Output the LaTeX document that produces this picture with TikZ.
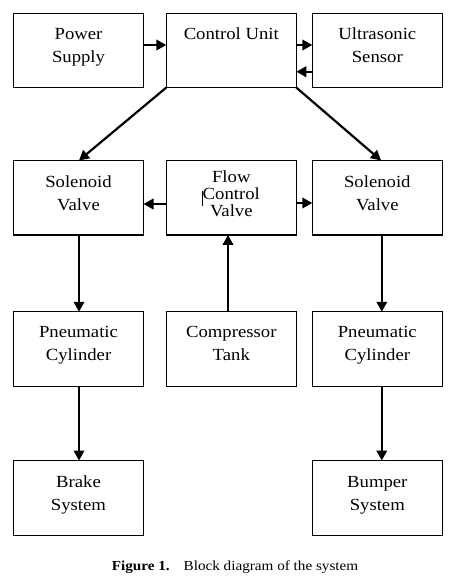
\documentclass[tikz,border=0pt]{standalone}
\usepackage{fontspec}
\setmainfont{Liberation Serif}[FakeStretch=1.1]
\usetikzlibrary{arrows.meta}
\newcommand\blk[1]{\begin{tabular}[t]{@{}c@{}}#1\end{tabular}}
\begin{document}
\begin{tikzpicture}[x=1pt,y=-1pt,
  box/.style={draw, line width=1.1pt, minimum width=130pt, minimum height=74.5pt, inner sep=0pt, outer sep=0pt},
  lbl/.style={anchor=base, inner sep=0pt, font=\fontsize{17}{23}\selectfont},
  lbltight/.style={anchor=base, inner sep=0pt, font=\fontsize{17}{16.5}\selectfont},
  arr/.style={-{Triangle[length=10pt,width=10.5pt]}, line width=2.2pt}]
\useasboundingbox (0,0) rectangle (453,579);
% boxes
\node[box] (ps)  at (78.5,50.3) {};
\node[box] (cu)  at (231.3,50.3) {};
\node[box] (us)  at (377.3,50.3) {};
\node[box] (sv1) at (78.5,197.7) {};
\node[box] (fcv) at (231.3,197.7) {};
\node[box] (sv2) at (377.3,197.7) {};
\node[box] (pc1) at (78.5,349) {};
\node[box] (ct)  at (231.3,349) {};
\node[box] (pc2) at (377.3,349) {};
\node[box] (bs)  at (78.5,497.8) {};
\node[box] (bus) at (377.3,497.8) {};
% labels
\node[lbl] (tps)  at (78.5,39) {\blk{Power\\Supply}};
\node[lbl] (tcu)  at (231.3,39) {\blk{Control Unit}};
\node[lbl] (tus)  at (377.3,39) {\blk{Ultrasonic\\Sensor}};
\node[lbl] (tsv1) at (78.5,187.3) {\blk{Solenoid\\Valve}};
\node[lbltight] (tfcv) at (231.3,182.7) {\blk{Flow\\Control\\Valve}};
\node[lbl] (tsv2) at (377.3,187.3) {\blk{Solenoid\\Valve}};
\node[lbl] (tpc1) at (78.5,337.7) {\blk{Pneumatic\\Cylinder}};
\node[lbl] (tct)  at (231.3,337.7) {\blk{Compressor\\Tank}};
\node[lbl] (tpc2) at (377.3,337.7) {\blk{Pneumatic\\Cylinder}};
\node[lbl] (tbs)  at (78.5,487.3) {\blk{Brake\\System}};
\node[lbl] (tbus) at (377.3,487.3) {\blk{Bumper\\System}};
% cursor mark
\coordinate (cur1) at (202.5,191);
\coordinate (cur2) at (202.5,206);
\draw[line width=0.8pt] (cur1) -- (cur2);
% helper rows
\coordinate (ya) at (0,45);
\coordinate (yb) at (0,71.7);
\coordinate (yc) at (0,204);
\coordinate (yd) at (0,203);
% arrows
\draw[arr] (ps.east |- ya) -- (cu.west |- ya);
\draw[arr] (cu.east |- ya) -- (us.west |- ya);
\draw[arr] (us.west |- yb) -- (cu.east |- yb);
\draw[arr] (cu.south west) -- ([xshift=0.5pt]sv1.north);
\draw[arr] (cu.south east) -- ([xshift=3.7pt]sv2.north);
\draw[arr] (fcv.west |- yc) -- (sv1.east |- yc);
\draw[arr] (fcv.east |- yd) -- (sv2.west |- yd);
\draw[arr] ([xshift=-3.3pt]ct.north) -- ([xshift=-3.3pt]fcv.south);
\draw[arr] ([xshift=0.5pt]sv1.south) -- ([xshift=0.5pt]pc1.north);
\draw[arr] ([xshift=4.5pt]sv2.south) -- ([xshift=4.5pt]pc2.north);
\draw[arr] ([xshift=0.5pt]pc1.south) -- ([xshift=0.5pt]bs.north);
\draw[arr] ([xshift=4.5pt]pc2.south) -- ([xshift=4.5pt]bus.north);
% caption
\node[anchor=base, inner sep=0pt, font=\fontsize{13.8}{16}\selectfont] (cap) at (235,570)
  {\textbf{Figure 1.}\hspace{14pt}Block diagram of the system};
\end{tikzpicture}
\end{document}
